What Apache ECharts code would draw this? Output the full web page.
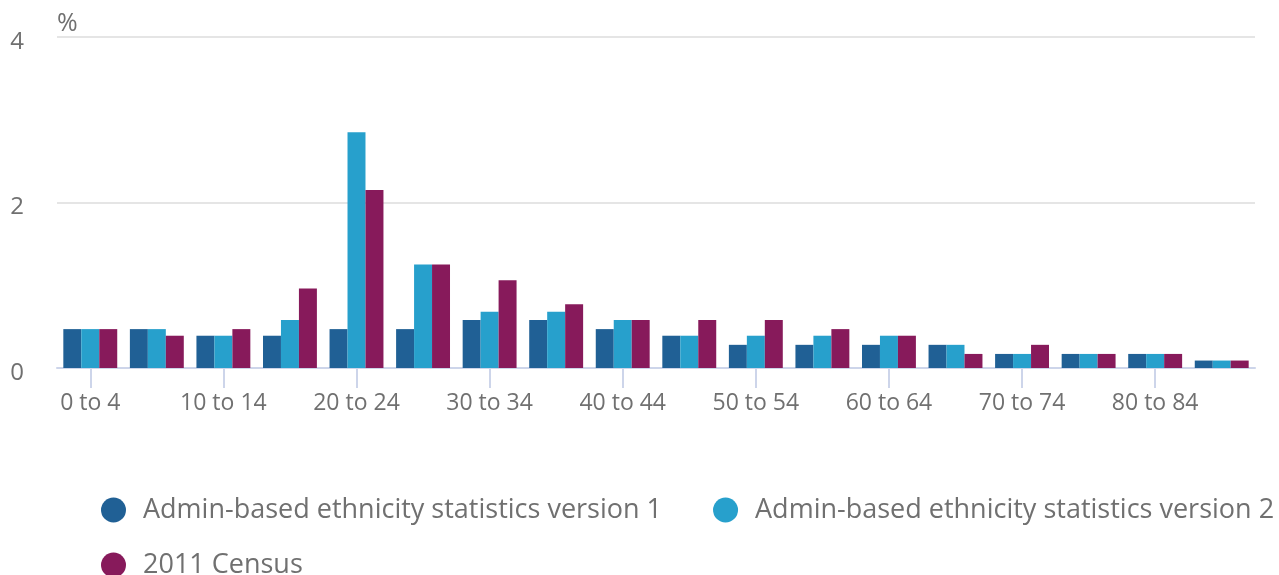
<!DOCTYPE html>
<html>
<head>
<meta charset="utf-8">
<title>Age distribution</title>
<script src="https://cdn.jsdelivr.net/npm/echarts@6/dist/echarts.min.js"></script>
<style>
    html, body { margin: 0; padding: 0; background: #fff; }
    #chart { width: 1279px; height: 575px; }
</style>
</head>
<body>
<div id="chart"></div>
<script type="text/javascript">
// age groups
var categories = ['0 to 4', '5 to 9', '10 to 14', '15 to 19', '20 to 24', '25 to 29',
    '30 to 34', '35 to 39', '40 to 44', '45 to 49', '50 to 54', '55 to 59',
    '60 to 64', '65 to 69', '70 to 74', '75 to 79', '80 to 84', '85 to 89'];

// values (%)
var version1 = [0.47, 0.47, 0.39, 0.39, 0.47, 0.47, 0.58, 0.58, 0.47, 0.39, 0.28, 0.28, 0.28, 0.28, 0.17, 0.17, 0.17, 0.09];
var version2 = [0.47, 0.47, 0.39, 0.58, 2.85, 1.25, 0.68, 0.68, 0.58, 0.39, 0.39, 0.39, 0.39, 0.28, 0.17, 0.17, 0.17, 0.09];
var census = [0.47, 0.39, 0.47, 0.96, 2.15, 1.25, 1.06, 0.77, 0.58, 0.58, 0.58, 0.47, 0.39, 0.17, 0.28, 0.17, 0.17, 0.09];

var seriesNames = ['Admin-based ethnicity statistics version 1', 'Admin-based ethnicity statistics version 2', '2011 Census'];

var textColor = '#707070';
var font = '"Open Sans", sans-serif';

var chart = echarts.init(document.getElementById('chart'));
var option = {
    animation: false,
    color: ['#206095', '#27a0cc', '#871a5b'],
    textStyle: { fontFamily: font },
    grid: {
        left: 57,
        right: 24,
        top: 37,
        bottom: 207
    },
    legend: {
        left: 96,
        top: 490,
        width: 1260,
        icon: 'circle',
        itemWidth: 25,
        itemHeight: 25,
        itemGap: 25,
        textStyle: {
            color: textColor,
            fontSize: 27,
            fontFamily: font,
            lineHeight: 30,
            padding: [0, 26, 0, 12]
        }
    },
    xAxis: {
        type: 'category',
        data: categories,
        axisLine: { lineStyle: { color: '#cdd5ea', width: 2 } },
        axisTick: {
            show: true,
            alignWithLabel: true,
            interval: 1,
            length: 20,
            lineStyle: { color: '#cdd5ea', width: 2 }
        },
        axisLabel: {
            interval: 1,
            margin: 24,
            color: textColor,
            fontSize: 23,
            fontFamily: font
        }
    },
    yAxis: {
        type: 'value',
        min: 0,
        max: 4,
        interval: 2,
        name: '%',
        nameLocation: 'end',
        nameGap: 1,
        nameTextStyle: {
            color: textColor,
            fontSize: 25,
            fontFamily: font,
            align: 'left'
        },
        axisLine: { show: false },
        axisTick: { show: false },
        axisLabel: {
            margin: 33,
            color: textColor,
            fontSize: 24,
            fontFamily: font,
            verticalAlign: 'top',
            lineHeight: 10
        },
        splitLine: { lineStyle: { color: '#e5e5e5', width: 2 } }
    },
    series: [
        { name: seriesNames[0], type: 'bar', data: version1, barGap: 0, barCategoryGap: '19%' },
        { name: seriesNames[1], type: 'bar', data: version2, barGap: 0, barCategoryGap: '19%' },
        { name: seriesNames[2], type: 'bar', data: census, barGap: 0, barCategoryGap: '19%' }
    ]
};
chart.setOption(option);
</script>
</body>
</html>
